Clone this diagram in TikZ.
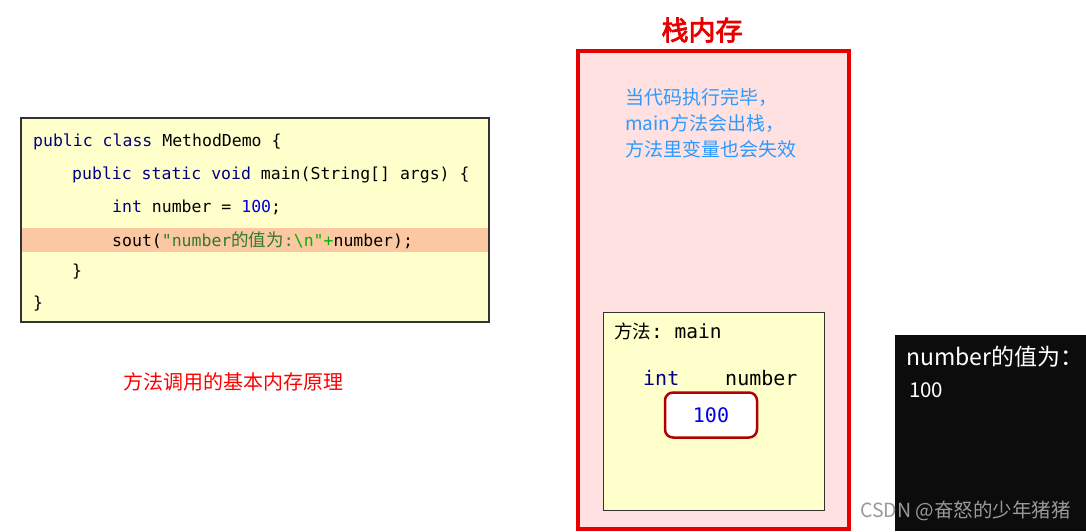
\documentclass[tikz,border=0pt]{standalone}
\usepackage{fontspec}
\setmonofont{DejaVu Sans Mono}
\newfontfamily\cjk{Noto Sans CJK SC}
\newfontfamily\cjkb[FakeBold=3]{Noto Sans CJK SC}
\definecolor{codebg}{HTML}{FFFFCC}
\definecolor{hilite}{HTML}{FBC8A2}
\definecolor{stackpink}{HTML}{FFE1E1}
\definecolor{stackred}{HTML}{E60000}
\definecolor{notblue}{HTML}{2E9AFE}
\definecolor{kwnavy}{HTML}{000080}
\definecolor{numblue}{HTML}{0000E0}
\definecolor{strgreen}{HTML}{2A7D2A}
\definecolor{nlgreen}{HTML}{00B400}
\definecolor{valred}{HTML}{B00000}
\definecolor{consolebg}{HTML}{0C0C0C}
\definecolor{frame}{HTML}{333333}
\newcommand{\kw}[1]{{\color{kwnavy}#1}}
\tikzset{
  codeline/.style={anchor=west, inner sep=0pt, font=\fontsize{16.5}{20}\ttfamily},
  note/.style={anchor=west, inner sep=0pt, text=notblue, font=\fontsize{19}{22}\cjk},
  monolbl/.style={anchor=west, inner sep=0pt, font=\fontsize{20}{24}\ttfamily}
}
\begin{document}
\begin{tikzpicture}[x=1pt,y=-1pt]
\path[use as bounding box] (0,0) rectangle (1086,531);
% code panel
\draw[fill=codebg, draw=frame, line width=1.5pt] (21,118) rectangle (489,322);
\fill[hilite] (22,228) rectangle (488,252);
\node[codeline] (l1) at (33,142) {\kw{public class} MethodDemo \{};
\node[codeline] (l2) at (72,175) {\kw{public static void} main(String[] args) \{};
\node[codeline] (l3) at (112,207) {\kw{int} number = {\color{numblue}100};};
\node[codeline] (l4) at (112,240) {sout({\color{strgreen}"number{\cjk\fontsize{17.5}{20}\selectfont 的值为}:}{\color{nlgreen}\textbackslash n"+}number);};
\node[codeline] (l5) at (72,272) {\}};
\node[codeline] (l6) at (33,304) {\}};
\node[anchor=west, inner sep=0pt, text=red, font=\fontsize{20}{22}\cjk] (cap) at (123,382) {方法调用的基本内存原理};
% stack
\node[inner sep=0pt, text=stackred, font=\fontsize{27}{30}\cjkb] (title) at (702,30) {栈内存};
\draw[line width=4pt, draw=stackred, fill=stackpink] (578,51) rectangle (849,529);
\node[note] (n1) at (625,97) {当代码执行完毕，};
\node[note] (n2) at (625,123) {main方法会出栈，};
\node[note] (n3) at (625,149) {方法里变量也会失效};
\draw[fill=codebg, draw=frame, line width=1pt] (603,312) rectangle (824,510);
\node[anchor=west, inner sep=0pt] (mlbl) at (614,331) {{\fontsize{18.5}{22}\cjk 方法}{\fontsize{19.5}{22}\ttfamily: main}};
\node[monolbl, text=kwnavy] (tint) at (643,378) {int};
\node[monolbl] (tnum) at (725,378) {number};
\node[draw=valred, line width=2.5pt, rounded corners=8pt, fill=white, minimum width=92pt, minimum height=45pt, text=numblue, font=\fontsize{20}{24}\ttfamily] (val) at (711,415) {100};
% console
\fill[consolebg] (895,335) rectangle (1086,531);
\node[anchor=west, inner sep=0pt, text=white, font=\fontsize{23}{26}\cjk] (out1) at (906,357) {number的值为：};
\node[anchor=west, inner sep=0pt, text=white, font=\fontsize{20.5}{24}\cjk] (out2) at (909,390) {100};
\node[anchor=west, inner sep=0pt, text=gray!80, font=\fontsize{19.5}{22}\cjk] (wm) at (860,511) {CSDN @奋怒的少年猪猪};
\end{tikzpicture}
\end{document}
